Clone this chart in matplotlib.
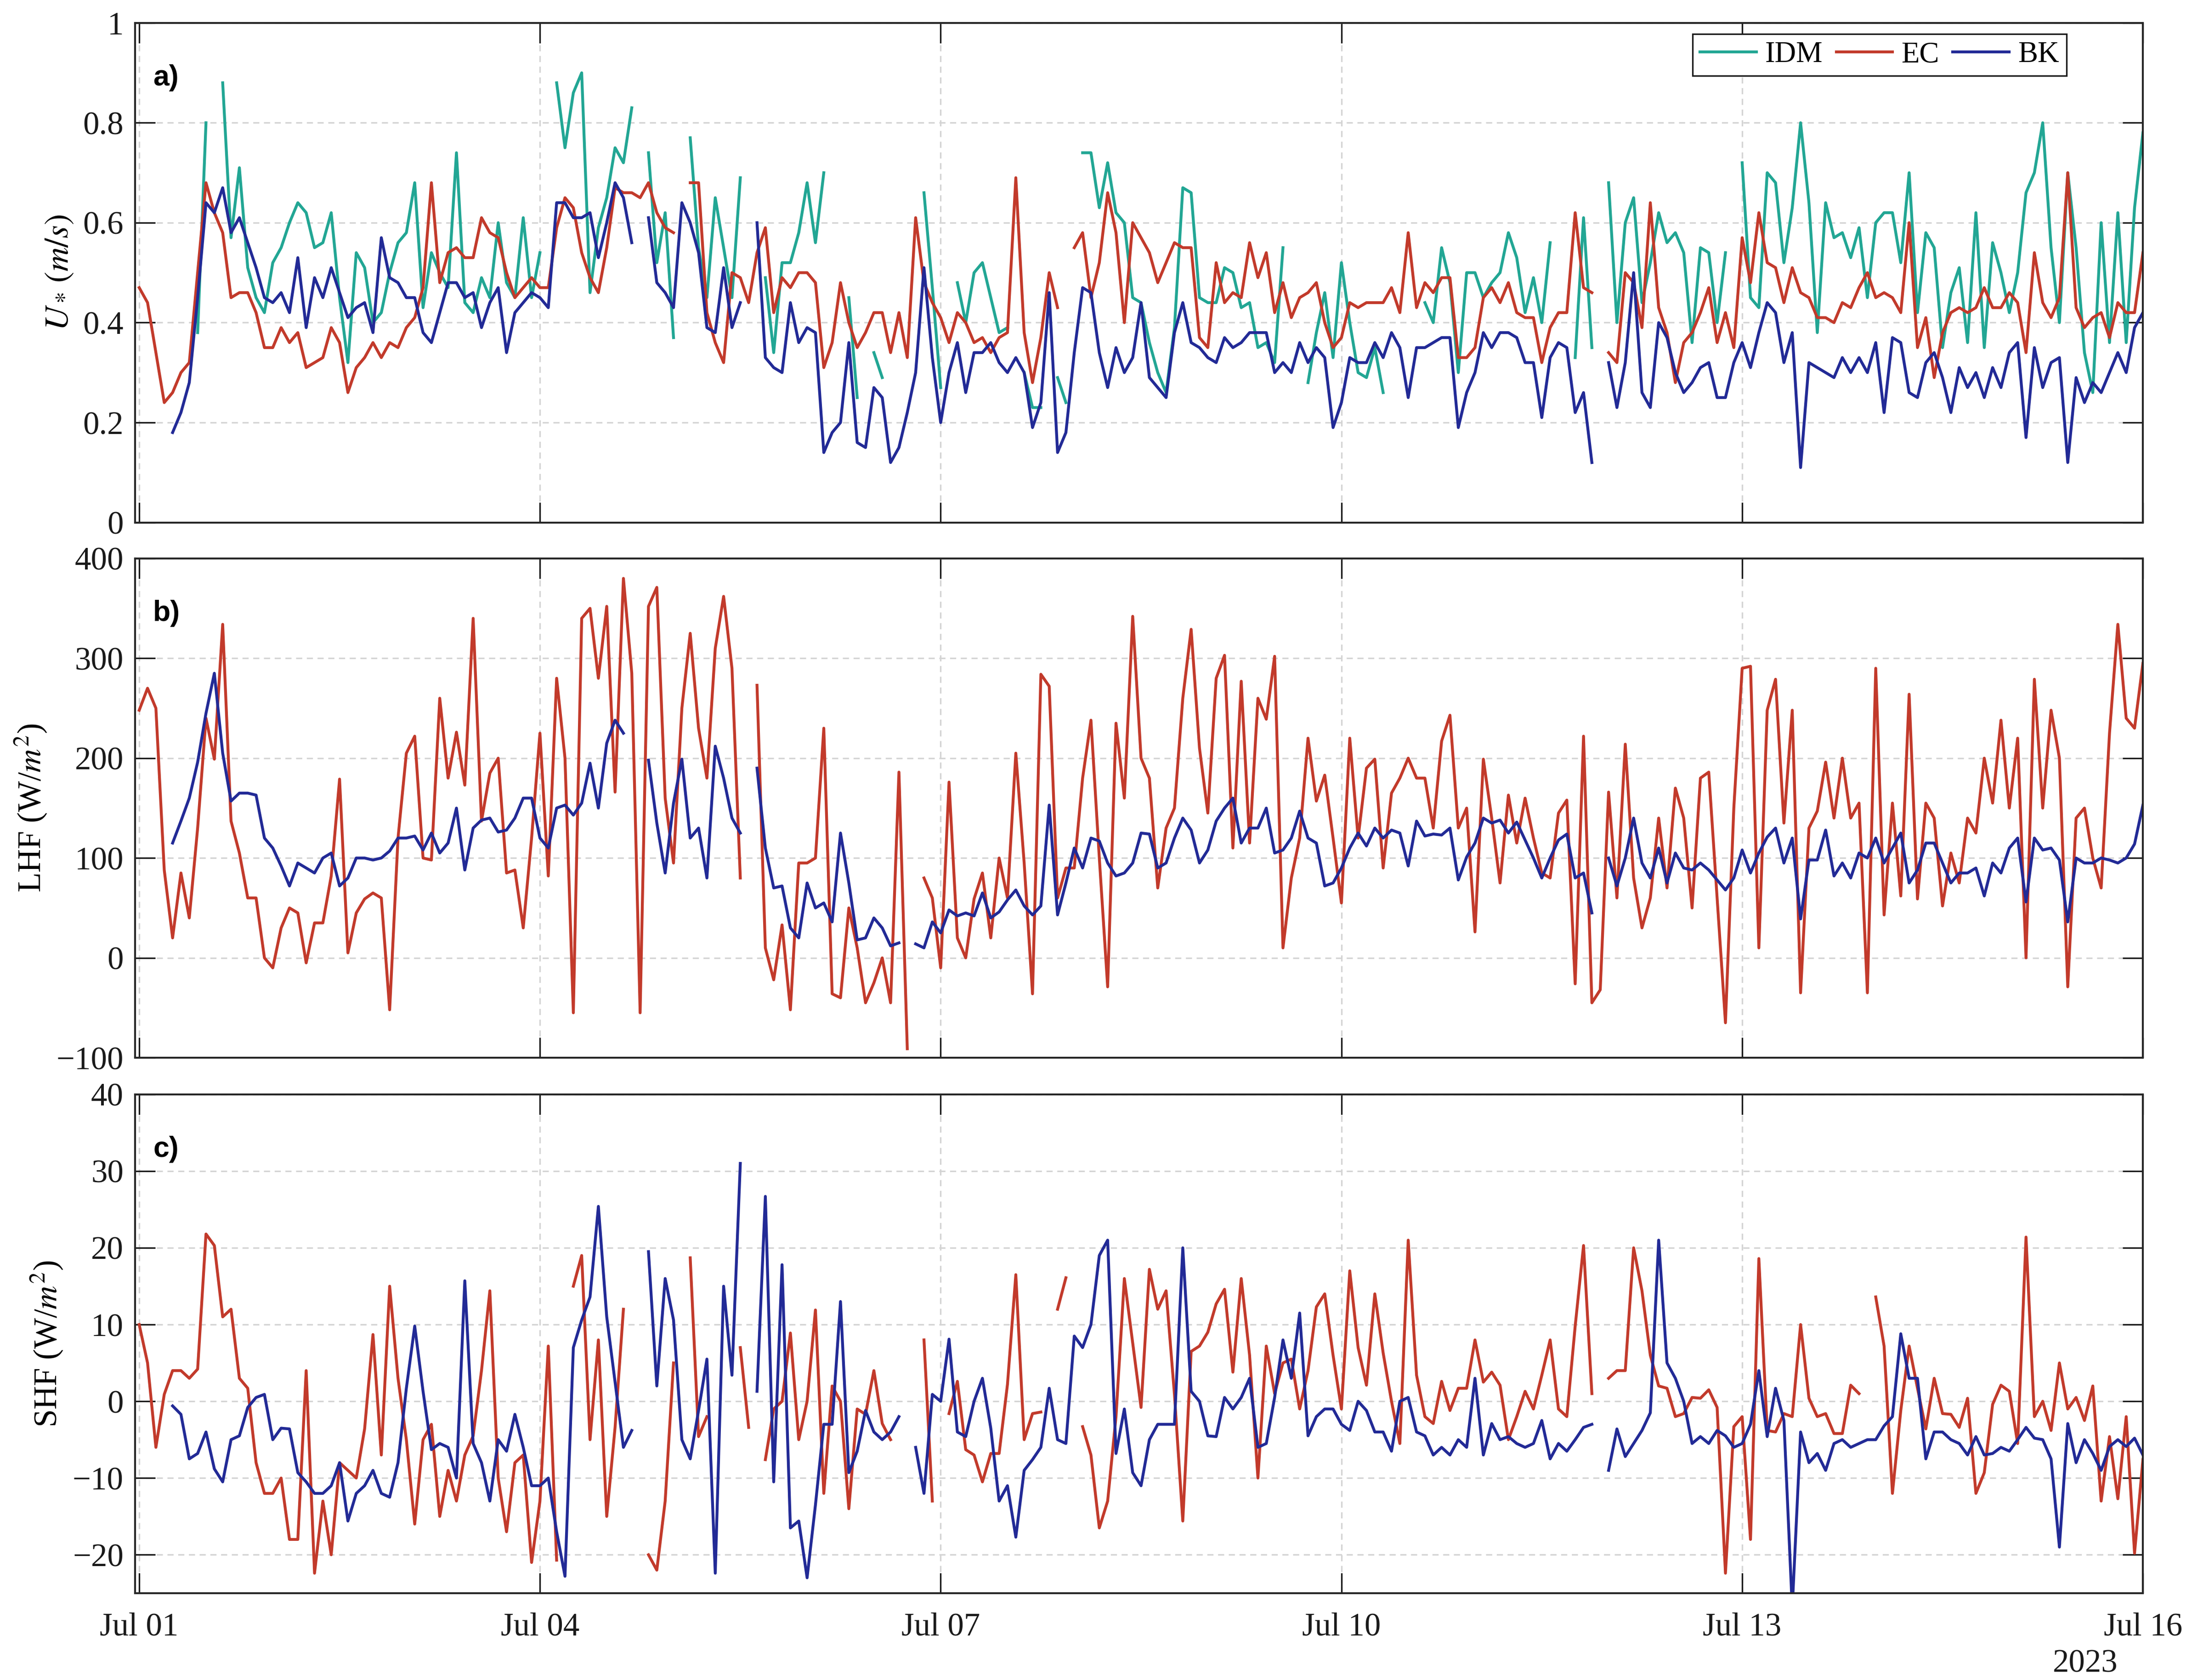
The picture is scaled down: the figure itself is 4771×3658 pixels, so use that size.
import numpy as np
import pandas as pd
import matplotlib
matplotlib.use("Agg")
import matplotlib.pyplot as plt
import matplotlib.dates as mdates

nan = np.nan

# ---------------- data ----------------
# Values read every 1.5 h from Jul 01 00:00 to Jul 16 00:00.
# "*_on" = readings on the full 3-hour marks (121 values),
# "*_half" = readings half-way between them (120 values).
start_time = "2023-07-01 00:00"
step = "90min"

ustar_idm_on = [
    nan, nan, nan, nan, 0.80, 0.88, 0.71, 0.45,
    0.52, 0.60, 0.62, 0.56, 0.45, 0.54, 0.40, 0.50,
    0.58, 0.43, 0.50, 0.74, 0.42, 0.45, 0.48, 0.61,
    0.54, 0.88, 0.86, 0.46, 0.65, 0.72, nan, 0.52,
    0.37, 0.77, 0.45, 0.55, 0.69, nan, 0.34, 0.52,
    0.68, 0.70, nan, 0.25, 0.34, nan, nan, 0.66,
    0.27, 0.48, 0.50, 0.45, 0.39, 0.30, 0.23, 0.29,
    nan, 0.74, 0.72, 0.60, 0.44, 0.30, 0.39, 0.66,
    0.44, 0.51, 0.43, 0.35, 0.32, nan, 0.28, 0.46,
    0.52, 0.30, 0.35, nan, nan, 0.44, 0.55, 0.30,
    0.50, 0.48, 0.58, 0.42, 0.40, nan, 0.33, 0.35,
    0.68, 0.60, 0.44, 0.62, 0.58, 0.36, 0.54, 0.54,
    0.72, 0.43, 0.68, 0.63, 0.64, 0.64, 0.58, 0.59,
    0.60, 0.62, 0.70, 0.58, 0.35, 0.51, 0.62, 0.56,
    0.42, 0.66, 0.80, 0.40, 0.55, 0.26, 0.36, 0.36, 0.78,
]
ustar_idm_half = [
    nan, nan, nan, 0.38, nan, 0.57, 0.51, 0.42,
    0.55, 0.64, 0.55, 0.62, 0.32, 0.51, 0.42, 0.56,
    0.68, 0.54, 0.47, 0.44, 0.49, 0.60, 0.45, 0.45,
    nan, 0.75, 0.90, 0.59, 0.75, 0.83, 0.74, 0.62,
    nan, 0.55, 0.65, 0.45, nan, 0.49, 0.52, 0.58,
    0.56, nan, 0.45, nan, 0.29, nan, nan, 0.47,
    nan, 0.40, 0.52, 0.38, nan, 0.23, nan, 0.24,
    0.74, 0.63, 0.62, 0.45, 0.36, 0.26, 0.67, 0.45,
    0.44, 0.50, 0.44, 0.36, 0.55, nan, 0.38, 0.33,
    0.40, 0.29, 0.26, nan, nan, 0.40, 0.48, 0.50,
    0.45, 0.50, 0.53, 0.49, 0.56, nan, 0.61, nan,
    0.40, 0.65, 0.52, 0.56, 0.54, 0.55, 0.40, nan,
    0.45, 0.70, 0.52, 0.80, 0.38, 0.57, 0.53, 0.45,
    0.62, 0.52, 0.42, 0.55, 0.46, 0.36, 0.35, 0.50,
    0.50, 0.70, 0.55, 0.70, 0.34, 0.60, 0.62, 0.63,
]

ustar_ec_on = [
    0.47, 0.34, 0.26, 0.32, 0.68, 0.58, 0.46, 0.42,
    0.35, 0.36, 0.31, 0.33, 0.36, 0.31, 0.36, 0.36,
    0.39, 0.47, 0.48, 0.55, 0.53, 0.58, 0.50, 0.47,
    0.47, 0.59, 0.63, 0.49, 0.55, 0.66, 0.65, 0.62,
    0.58, 0.68, 0.42, 0.32, 0.49, 0.54, 0.42, 0.47,
    0.50, 0.31, 0.48, 0.35, 0.42, 0.34, 0.33, 0.48,
    0.41, 0.42, 0.36, 0.34, 0.38, 0.38, 0.37, 0.43,
    0.55, 0.45, 0.66, 0.40, 0.57, 0.48, 0.56, 0.55,
    0.35, 0.44, 0.45, 0.49, 0.42, 0.41, 0.46, 0.40,
    0.37, 0.43, 0.44, 0.47, 0.58, 0.48, 0.49, 0.33,
    0.35, 0.47, 0.48, 0.41, 0.32, 0.42, 0.62, 0.46,
    0.34, 0.50, 0.39, 0.43, 0.28, 0.38, 0.47, 0.42,
    0.57, 0.62, 0.51, 0.51, 0.45, 0.41, 0.44, 0.47,
    0.45, 0.45, 0.60, 0.41, 0.38, 0.43, 0.43, 0.43,
    0.46, 0.34, 0.44, 0.45, 0.43, 0.41, 0.37, 0.42, 0.54,
]
ustar_ec_half = [
    0.44, 0.24, 0.30, 0.50, 0.62, 0.45, 0.46, 0.35,
    0.39, 0.38, 0.32, 0.39, 0.26, 0.33, 0.33, 0.35,
    0.41, 0.68, 0.54, 0.53, 0.61, 0.57, 0.45, 0.49,
    0.47, 0.65, 0.54, 0.46, 0.67, 0.66, 0.68, 0.59,
    nan, 0.68, 0.36, 0.50, 0.44, 0.59, 0.49, 0.50,
    0.48, 0.36, 0.40, 0.38, 0.42, 0.42, 0.61, 0.44,
    0.36, 0.40, 0.37, 0.37, 0.69, 0.28, 0.50, nan,
    0.58, 0.52, 0.58, 0.60, 0.54, 0.52, 0.55, 0.37,
    0.52, 0.46, 0.56, 0.54, 0.48, 0.45, 0.48, 0.35,
    0.44, 0.44, 0.44, 0.42, 0.43, 0.46, 0.49, 0.33,
    0.45, 0.44, 0.42, 0.41, 0.39, 0.42, 0.47, nan,
    0.32, 0.48, 0.64, 0.38, 0.36, 0.42, 0.36, 0.35,
    0.48, 0.52, 0.44, 0.46, 0.41, 0.40, 0.43, 0.50,
    0.46, 0.42, 0.35, 0.29, 0.42, 0.42, 0.47, 0.43,
    0.44, 0.54, 0.41, 0.70, 0.39, 0.42, 0.44, 0.42,
]

ustar_bk_on = [
    nan, nan, 0.18, 0.28, 0.64, 0.67, 0.61, 0.51,
    0.44, 0.42, 0.39, 0.45, 0.46, 0.43, 0.38, 0.49,
    0.45, 0.38, 0.42, 0.48, 0.46, 0.44, 0.34, 0.44,
    0.45, 0.64, 0.61, 0.62, 0.60, 0.65, nan, 0.48,
    0.43, 0.60, 0.39, 0.51, 0.44, 0.60, 0.31, 0.44,
    0.39, 0.14, 0.20, 0.16, 0.27, 0.12, 0.22, 0.51,
    0.20, 0.36, 0.34, 0.36, 0.30, 0.30, 0.24, 0.14,
    0.34, 0.46, 0.27, 0.30, 0.44, 0.27, 0.38, 0.36,
    0.33, 0.37, 0.36, 0.38, 0.30, 0.30, 0.32, 0.33,
    0.24, 0.32, 0.36, 0.38, 0.25, 0.35, 0.37, 0.19,
    0.30, 0.35, 0.38, 0.32, 0.21, 0.36, 0.22, 0.12,
    0.32, 0.32, 0.26, 0.40, 0.30, 0.28, 0.32, 0.25,
    0.36, 0.38, 0.42, 0.38, 0.32, 0.30, 0.33, 0.33,
    0.36, 0.37, 0.26, 0.32, 0.29, 0.31, 0.30, 0.31,
    0.34, 0.17, 0.27, 0.33, 0.29, 0.28, 0.30, 0.30, 0.42,
]
ustar_bk_half = [
    nan, nan, 0.22, 0.45, 0.62, 0.58, 0.56, 0.45,
    0.46, 0.53, 0.49, 0.51, 0.41, 0.44, 0.57, 0.48,
    0.45, 0.36, 0.48, 0.45, 0.39, 0.47, 0.42, 0.46,
    0.43, 0.64, 0.61, 0.53, 0.68, 0.56, 0.61, 0.46,
    0.64, 0.54, 0.38, 0.39, nan, 0.33, 0.30, 0.36,
    0.38, 0.18, 0.36, 0.15, 0.25, 0.15, 0.30, 0.33,
    0.30, 0.26, 0.34, 0.32, 0.33, 0.19, 0.46, 0.18,
    0.47, 0.34, 0.35, 0.33, 0.29, 0.25, 0.44, 0.35,
    0.32, 0.35, 0.38, 0.38, 0.32, 0.36, 0.35, 0.19,
    0.33, 0.32, 0.33, 0.35, 0.35, 0.36, 0.37, 0.26,
    0.38, 0.38, 0.37, 0.32, 0.33, 0.35, 0.26, nan,
    0.23, 0.50, 0.23, 0.37, 0.26, 0.31, 0.25, 0.32,
    0.31, 0.44, 0.32, 0.11, 0.31, 0.29, 0.30, 0.30,
    0.22, 0.36, 0.25, 0.34, 0.22, 0.27, 0.25, 0.27,
    0.36, 0.35, 0.32, 0.12, 0.24, 0.26, 0.34, 0.39,
]

lhf_ec_on = [
    248, 250, 20, 40, 240, 334, 105, 60,
    -10, 50, -5, 35, 179, 45, 65, -52,
    205, 100, 260, 226, 340, 185, 85, 30,
    225, 280, -55, 350, 352, 380, -55, 371,
    95, 325, 180, 362, 80, 273, -22, -52,
    95, 230, -40, 10, -25, -45, -91, 80,
    -10, 20, 59, 20, 60, 95, 284, 60,
    90, 238, -29, 160, 200, 70, 150, 329,
    145, 303, 277, 260, 302, 80, 220, 183,
    55, 120, 199, 165, 200, 180, 217, 130,
    26, 140, 163, 160, 85, 145, -26, -45,
    166, 214, 30, 140, 170, 50, 186, -65,
    290, 10, 279, 248, 130, 196, 200, 155,
    290, 155, 264, 155, 52, 75, 125, 155,
    150, 0, 150, 200, 140, 100, 225, 240, 295,
]
lhf_ec_half = [
    270, 88, 85, 130, 199, 137, 60, 0,
    30, 45, 35, 82, 5, 59, 60, 120,
    222, 98, 180, 173, 137, 200, 88, 120,
    82, 200, 340, 280, 166, 285, 352, 160,
    250, 230, 310, 290, nan, 10, 33, 95,
    100, -36, 50, -45, 0, 186, nan, 60,
    176, 0, 85, 100, 205, -36, 272, 90,
    180, 100, 235, 342, 180, 130, 260, 210,
    280, 110, 115, 239, 10, 120, 157, 120,
    220, 190, 90, 180, 180, 130, 243, 150,
    199, 75, 115, 120, 80, 158, 222, -32,
    60, 80, 60, 70, 140, 180, 60, 150,
    292, 248, 135, -35, 147, 140, 140, -35,
    43, 62, 59, 140, 105, 140, 200, 238,
    220, 279, 248, -29, 150, 70, 334, 230,
]

lhf_bk_on = [
    nan, nan, 115, 160, 245, 205, 165, 163,
    110, 72, 90, 100, 72, 100, 98, 107,
    120, 108, 105, 150, 130, 140, 128, 160,
    120, 150, 143, 195, 215, 225, nan, 135,
    155, 120, 80, 180, 125, 190, 70, 30,
    75, 55, 125, 18, 40, 12, nan, 10,
    25, 42, 42, 40, 58, 52, 52, 43,
    110, 120, 95, 85, 125, 90, 120, 128,
    108, 150, 115, 130, 105, 120, 120, 72,
    90, 125, 130, 128, 92, 122, 123, 78,
    115, 135, 125, 118, 80, 118, 80, 45,
    100, 100, 95, 110, 105, 88, 88, 68,
    108, 105, 130, 120, 98, 128, 95, 105,
    120, 110, 75, 115, 95, 85, 90, 95,
    110, 56, 108, 98, 100, 95, 98, 100, 153,
]
lhf_bk_half = [
    nan, nan, 137, 196, 285, 157, 165, 120,
    92, 95, 85, 105, 80, 100, 100, 120,
    122, 125, 115, 88, 138, 126, 140, 160,
    110, 153, 155, 150, 238, nan, 198, 85,
    199, 130, 212, 140, nan, 110, 72, 20,
    50, 36, 75, 20, 30, 15, 14, 36,
    48, 45, 65, 46, 68, 43, 153, 75,
    90, 117, 82, 95, 124, 95, 140, 95,
    137, 160, 130, 150, 108, 147, 115, 75,
    110, 112, 120, 125, 137, 124, 130, 101,
    140, 138, 136, 100, 100, 124, 85, nan,
    72, 140, 80, 75, 90, 95, 78, 80,
    85, 121, 95, 39, 98, 82, 80, 100,
    95, 125, 88, 115, 75, 85, 62, 85,
    120, 120, 110, 36, 95, 100, 95, 114,
]

shf_ec_on = [
    10, -6, 4, 3, 21.8, 11, 3, -8,
    -12, -18, 4, -13, -8, -10, 8.7, 15,
    -5, -5, -15, -13, -4.5, 14.4, -17, -7,
    -13, -20.7, 15, -5, -15, 12, nan, -22,
    5, 18.7, -2, nan, 7, nan, -1, 8.9,
    0, -12, 0, -1, 4, -5, nan, 8,
    nan, 2.6, -7, -6.8, 2.2, -5, -1.4, 12,
    nan, -7, -13, 16, -0.8, 12, 0.9, 6.5,
    9, 14.6, 16, -10, 1, 5.5, 4, 14,
    -1, 7, 14, 0, 21, -2, 2.6, 1.7,
    8, 3.8, -5, 1.3, 3.4, -1, 9.8, 1,
    3, 4, 14.4, 2, -2, 0.5, 1.5, -22.4,
    -2, 18.6, -4, -2, 0.4, -1.6, -4.2, 1,
    13.6, -12, 7.2, -3.6, -1.6, -3.4, -12, -0.4,
    1.3, 21.4, 0, 5, 0.5, 2, -4.6, -2, -7.6,
]
shf_ec_half = [
    5, 0.9, 4, 4.2, 20.3, 12, 1.7, -12,
    -10, -18, -22.4, -20, -9, -3.6, -7, 3,
    -16, -3, -9, -7, 4, -10, -8, -21,
    7.2, nan, 19, 8, -3.4, nan, -20, -13,
    nan, -4.6, nan, nan, -3.4, -7.6, 0, -5,
    11.9, 2, -14, -1.7, -2.9, nan, nan, -13,
    -1.6, -6.3, -10.5, -6.8, 16.5, -1.6, nan, 16.1,
    -3.3, -16.5, -2, 7.6, 17.2, 14.4, -15.6, 7.2,
    12.7, 3.8, 6, 7.2, 5, -1, 12.3, 6,
    17, 2.1, 6.3, -5.5, 3.4, -2.9, -1.2, 1.7,
    2.5, 2.1, -2, -1, 8, -2, 20.3, nan,
    4, 20, 6, 1.7, -1.6, 0.4, -0.8, -3.3,
    -18, -3.8, -1.6, 10, -2, -4.2, 2.1, nan,
    7.2, -1.2, 1.7, 3, -1.7, 0.4, -9.3, 2.1,
    -5.5, -2, -3.8, -1, -2.5, -13, -12.7, -19.8,
]

shf_bk_on = [
    nan, nan, -0.6, -7.5, -4, -10.5, -4.5, 0.5,
    -5, -3.6, -10.5, -12, -8, -12, -9, -12.5,
    1.7, 1.3, -5.5, -10, -5.5, -13, -6.5, -6,
    -11, -17, 7, 13.6, 11, -6, nan, 2,
    10.6, -7.5, 5.5, 15, 31, 1.3, -10.5, -16.5,
    -23, -3, 13, -6.5, -4, -4, nan, -12,
    0, -4, 0, -3.5, -11, -9, -6, -5,
    8.5, 10, 21, -1, -11, -3, -3, 1.3,
    -4.5, 0.5, 0.5, -6, 0.5, 3, -4.5, -1,
    -3, 0, -4, -6.5, 0.5, -4.5, -6, -5,
    3, -2.9, -4.6, -6, -2.5, -5.5, -5, -3,
    -9, -7.2, -3.8, 21, 3, -5.5, -5.5, -4.5,
    -5.5, 4, 1.7, -27, -8, -9, -5, -5.5,
    -5, -2, 3, -7.5, -4, -5.5, -4.6, -6.8,
    -6.5, -3.4, -5, -19, -8, -6.8, -5.9, -5.9, -7,
]
shf_bk_half = [
    nan, nan, -1.7, -6.8, -8.8, -5, -0.8, 0.9,
    -3.5, -9.3, -12, -11, -15.6, -11, -12, -8,
    9.8, -6.3, -6, 15.7, -8, -5, -1.7, -11,
    -10, -22.8, 10.6, 25.4, 2.5, -3.8, 19.5, 16,
    -5, -1.2, -22.4, 3.4, nan, 26.7, 17.8, -15.6,
    -13.5, -3, -9.3, -1.2, -5, -2, -6, 0.9,
    8.1, -4.6, 3, -13, -17.7, -7.6, 1.7, -5.5,
    7, 19, -6.8, -9.3, -5, -3, 20, 0,
    -4.6, -1, 3, -5.5, 8, 11.5, -2, -1,
    -3.8, -1.2, -4, 0, -4, -7, -7, -6,
    -7, -5, -5.5, -5.5, -7.5, -6.5, -3.4, nan,
    -3.6, -5.5, -1.5, 5, 0, -4.6, -3.8, -6,
    -3, -4.6, -2.5, -4, -6.8, -5.5, -6, -5,
    -3.2, 8.8, 3, -4, -5, -7, -7, -6,
    -5, -4.8, -7.5, -2.9, -5, -9, -5, -4.8,
]

series_names = ["IDM", "EC", "BK"]
tick_days = [1, 4, 7, 10, 13, 16]
year_label = "2023"


def merge(on_marks, half_marks):
    """Put the on-the-mark and half-way readings in time order."""
    on_marks = np.asarray(on_marks, dtype=float)
    half_marks = np.asarray(half_marks, dtype=float)
    out = np.empty(len(on_marks) + len(half_marks))
    out[0::2] = on_marks
    out[1::2] = half_marks
    return out


ustar_idm = merge(ustar_idm_on, ustar_idm_half)
ustar_ec = merge(ustar_ec_on, ustar_ec_half)
ustar_bk = merge(ustar_bk_on, ustar_bk_half)
lhf_ec = merge(lhf_ec_on, lhf_ec_half)
lhf_bk = merge(lhf_bk_on, lhf_bk_half)
shf_ec = merge(shf_ec_on, shf_ec_half)
shf_bk = merge(shf_bk_on, shf_bk_half)

times = pd.date_range(start_time, periods=len(ustar_ec), freq=step)

# ---------------- style ----------------
plt.rcParams["font.family"] = ["Liberation Serif", "DejaVu Serif"]
plt.rcParams["mathtext.fontset"] = "stix"

col_idm = "#22a694"
col_ec = "#c23a2b"
col_bk = "#222a96"
lw = 1.5

fig = plt.figure(figsize=(4771 / 300, 3658 / 300), dpi=300)
left, width = 0.0616, 0.916
ax_a = fig.add_axes([left, 0.689, width, 0.2974])
ax_b = fig.add_axes([left, 0.3704, width, 0.2972])
ax_c = fig.add_axes([left, 0.0517, width, 0.2969])

xmin = pd.Timestamp("2023-07-01 00:00") - pd.Timedelta(minutes=45)
xmax = pd.Timestamp("2023-07-16 00:00")

ax_a.plot(times, ustar_idm, color=col_idm, lw=lw, label=series_names[0])
ax_a.plot(times, ustar_ec, color=col_ec, lw=lw, label=series_names[1])
ax_a.plot(times, ustar_bk, color=col_bk, lw=lw, label=series_names[2])

ax_b.plot(times, lhf_ec, color=col_ec, lw=lw)
ax_b.plot(times, lhf_bk, color=col_bk, lw=lw)

ax_c.plot(times, shf_ec, color=col_ec, lw=lw)
ax_c.plot(times, shf_bk, color=col_bk, lw=lw)

ax_a.set_ylim(0, 1)
ax_a.set_yticks([0, 0.2, 0.4, 0.6, 0.8, 1])
ax_a.set_yticklabels(["0", "0.2", "0.4", "0.6", "0.8", "1"])
ax_b.set_ylim(-100, 400)
ax_b.set_yticks([-100, 0, 100, 200, 300, 400])
ax_c.set_ylim(-25, 40)
ax_c.set_yticks([-20, -10, 0, 10, 20, 30, 40])

ax_a.set_ylabel(r"$U_*\,(m/s)$", fontsize=17.5)
ax_b.set_ylabel(r"LHF (W/$m^2$)", fontsize=17)
ax_c.set_ylabel(r"SHF (W/$m^2$)", fontsize=17)

for ax, lab in zip([ax_a, ax_b, ax_c], ["a)", "b)", "c)"]):
    ax.set_xlim(xmin, xmax)
    ax.xaxis.set_major_locator(mdates.DayLocator(bymonthday=tick_days))
    ax.xaxis.set_major_formatter(mdates.DateFormatter("%b %d"))
    ax.grid(True, color="#d4d4d4", linestyle=(0, (4, 3)), linewidth=0.8)
    ax.set_axisbelow(True)
    ax.tick_params(direction="in", length=10.5, width=0.8, top=True, right=True,
                   labelsize=17, colors="#1a1a1a")
    ax.tick_params(axis="x", pad=10)
    ax.tick_params(axis="y", pad=6)
    for s in ax.spines.values():
        s.set_linewidth(1.0)
        s.set_color("#262626")
    ax.text(0.009, 0.89, lab, transform=ax.transAxes, fontsize=15,
            fontweight="bold", family=["Liberation Sans", "DejaVu Sans"],
            ha="left", va="center")

for ax in [ax_a, ax_b]:
    ax.tick_params(labelbottom=False)

ax_c.annotate(year_label, xy=(1, 0), xycoords="axes fraction",
              xytext=(-13, -37), textcoords="offset points",
              ha="right", va="center", fontsize=17, color="#1a1a1a")

leg = ax_a.legend(loc="upper right", bbox_to_anchor=(0.962, 0.978), ncol=3,
                  fontsize=15.5, frameon=True, fancybox=False, framealpha=1,
                  edgecolor="#1a1a1a", borderaxespad=0, handlelength=1.9,
                  handletextpad=0.3, columnspacing=0.45, borderpad=0.25)
leg.get_frame().set_linewidth(0.8)

fig.savefig("out.png", dpi=300)
